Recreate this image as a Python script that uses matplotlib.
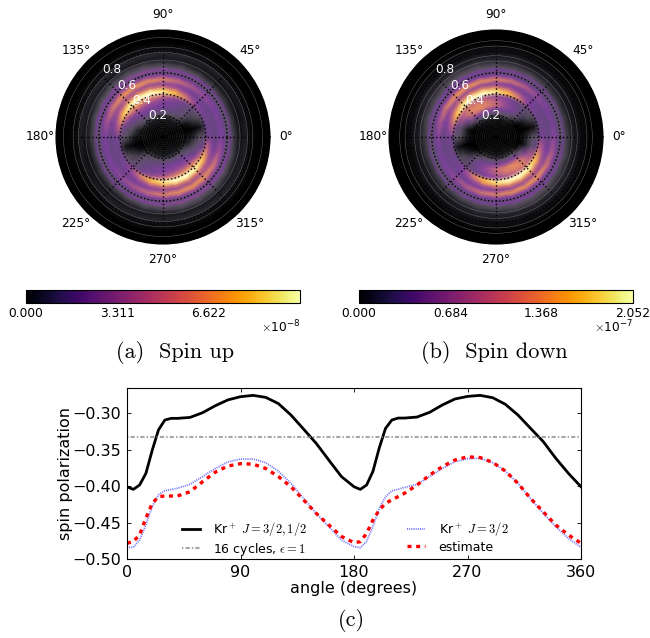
# Spin resolved momentum maps and spin polarization vs angle.
import numpy as np
import matplotlib
matplotlib.use("Agg")
import matplotlib.pyplot as plt
from matplotlib.colors import LinearSegmentedColormap, Normalize
from matplotlib.cm import ScalarMappable

plt.rcParams['mathtext.fontset'] = 'cm'
plt.rcParams['axes.unicode_minus'] = True

# polar maps: radii, angles of the table columns (upper half, lower half repeats it)
radii = [0, .12, .18, .22, .26, .30, .34, .38, .42, .44, .47, .50, .54, .58, .61, .63, .66, .70, .74, .78, .82, .86, .90, 1.0]
half_angles = [0, 15, 30, 45, 60, 75, 90, 105, 120, 135, 150, 165]

# fraction of the maximum, one row per radius
map_up = [
    [.00, .00, .00, .00, .00, .00, .00, .00, .00, .00, .00, .00],
    [.01, .00, .00, .02, .02, .02, .02, .02, .02, .02, .01, .01],
    [.03, .00, .01, .04, .05, .05, .05, .05, .05, .05, .03, .02],
    [.04, .00, .02, .09, .12, .13, .13, .14, .14, .13, .10, .05],
    [.05, .00, .04, .13, .18, .20, .22, .24, .24, .21, .14, .08],
    [.08, .01, .08, .15, .21, .25, .28, .30, .31, .29, .20, .12],
    [.12, .02, .10, .16, .22, .26, .31, .36, .38, .37, .28, .18],
    [.15, .06, .12, .18, .26, .36, .44, .52, .56, .58, .44, .24],
    [.26, .20, .24, .34, .52, .74, .91, 1.0, 1.0, .96, .78, .48],
    [.26, .22, .25, .32, .46, .66, .80, .90, .93, .86, .66, .42],
    [.24, .22, .24, .28, .34, .42, .48, .52, .54, .50, .42, .32],
    [.20, .20, .22, .24, .28, .32, .34, .36, .38, .40, .36, .28],
    [.30, .28, .30, .34, .40, .48, .54, .58, .60, .60, .52, .38],
    [.24, .22, .24, .25, .27, .30, .32, .33, .35, .36, .34, .28],
    [.13, .12, .13, .14, .15, .16, .17, .17, .18, .18, .17, .15],
    [.24, .22, .24, .26, .28, .31, .32, .33, .33, .32, .30, .27],
    [.10, .09, .09, .10, .11, .12, .13, .13, .13, .13, .12, .11],
    [.06, .05, .06, .06, .07, .08, .08, .09, .09, .09, .08, .07],
    [.04, .03, .04, .04, .05, .05, .05, .05, .05, .05, .05, .05],
    [.06, .05, .05, .06, .06, .07, .07, .07, .07, .07, .06, .06],
    [.02, .02, .02, .02, .03, .03, .03, .03, .03, .03, .03, .02],
    [.01, .01, .01, .01, .02, .02, .02, .02, .02, .02, .02, .01],
    [.00, .00, .00, .00, .00, .00, .00, .00, .00, .00, .00, .00],
    [.00, .00, .00, .00, .00, .00, .00, .00, .00, .00, .00, .00],
]
map_down = [
    [.00, .00, .00, .00, .00, .00, .00, .00, .00, .00, .00, .00],
    [.00, .00, .00, .00, .01, .01, .01, .01, .01, .01, .00, .00],
    [.00, .00, .00, .02, .04, .04, .04, .04, .04, .03, .01, .00],
    [.02, .00, .00, .07, .12, .13, .14, .14, .14, .12, .05, .00],
    [.04, .00, .03, .12, .22, .26, .28, .32, .32, .26, .12, .03],
    [.08, .00, .07, .18, .28, .36, .46, .52, .56, .48, .26, .08],
    [.12, .02, .10, .18, .26, .34, .44, .52, .56, .56, .38, .16],
    [.14, .05, .11, .16, .22, .30, .34, .40, .46, .50, .42, .22],
    [.26, .18, .22, .32, .52, .74, .91, 1.0, 1.0, .95, .76, .46],
    [.26, .22, .24, .30, .46, .66, .80, .90, .93, .86, .64, .40],
    [.24, .22, .24, .28, .34, .42, .50, .54, .56, .52, .42, .32],
    [.20, .20, .22, .24, .28, .30, .32, .34, .36, .38, .34, .28],
    [.32, .28, .30, .34, .42, .50, .54, .58, .60, .60, .52, .40],
    [.22, .20, .22, .24, .26, .28, .30, .30, .32, .33, .32, .28],
    [.14, .13, .14, .15, .16, .17, .17, .18, .18, .18, .17, .16],
    [.22, .20, .22, .24, .25, .27, .28, .29, .29, .28, .27, .25],
    [.10, .09, .09, .10, .11, .11, .12, .12, .12, .12, .11, .11],
    [.07, .06, .06, .07, .07, .08, .08, .09, .09, .09, .08, .08],
    [.05, .04, .04, .05, .05, .06, .06, .06, .06, .06, .06, .05],
    [.04, .03, .04, .04, .04, .05, .05, .05, .05, .05, .05, .04],
    [.02, .02, .02, .02, .03, .03, .03, .03, .03, .03, .03, .02],
    [.01, .01, .01, .01, .01, .02, .02, .02, .02, .01, .01, .01],
    [.00, .00, .00, .00, .00, .00, .00, .00, .00, .00, .00, .00],
    [.00, .00, .00, .00, .00, .00, .00, .00, .00, .00, .00, .00],
]
# thin grey rings seen over the dark parts of each map
rings_up = [.03, .05, .07, .09, .11, .13, .15, .17, .19, .72, .79, .84, .93]
rings_down = [.03, .05, .07, .09, .11, .13, .15, .17, .19, .71, .76, .85, .90]

vmax_up = 9.93e-8
vmax_down = 2.052e-7
ticks_up = [0.000, 3.311, 6.622]
ticks_down = [0.000, 0.684, 1.368, 2.052]

# line plot
angles_black = [0, 5, 10, 15, 20, 25, 30, 35, 40, 50, 60, 70, 80, 90, 100, 110, 120, 130, 140, 150, 160, 170, 180,
                185, 190, 195, 200, 205, 210, 215, 220, 230, 240, 250, 260, 270, 280, 290, 300, 310, 320, 330, 340, 350, 360]
total = [-.401, -.4046, -.3986, -.3826, -.351, -.323, -.3096, -.3073, -.3073, -.306, -.2995, -.290, -.282, -.2776,
         -.2758, -.2785, -.287, -.3027, -.322, -.3415, -.3644, -.387, -.4010,
         -.4046, -.3986, -.380, -.348, -.321, -.3096, -.3069, -.3069, -.3055, -.299, -.289, -.2808, -.2772,
         -.2758, -.279, -.288, -.3027, -.321, -.339, -.362, -.3826, -.401]
angles_jhalf = [0, 5, 10, 15, 20, 25, 30, 40, 50, 60, 70, 80, 90, 100, 110, 120, 130, 140, 150, 160, 170, 180,
                185, 190, 195, 200, 205, 210, 220, 230, 240, 250, 260, 270, 280, 290, 300, 310, 320, 330, 340, 350, 360]
j_three_half = [-.484, -.484, -.474, -.4534, -.428, -.412, -.4064, -.403, -.3977, -.387, -.376, -.367, -.363, -.363,
                -.368, -.3795, -.3963, -.417, -.4374, -.4557, -.474, -.483,
                -.4845, -.476, -.4557, -.4306, -.4146, -.4068, -.402, -.3977, -.387, -.376, -.3667, -.3626, -.362,
                -.368, -.3795, -.3963, -.417, -.4374, -.4557, -.4717, -.484]
estimate = [-.4785, -.476, -.467, -.444, -.4237, -.4146, -.4137, -.4137, -.4078, -.394, -.381, -.3726, -.3694, -.370,
            -.376, -.387, -.401, -.419, -.4374, -.4534, -.469, -.4776,
            -.4763, -.465, -.4466, -.433, -.4237, -.419, -.410, -.3986, -.385, -.3735, -.3644, -.360, -.361,
            -.3676, -.3795, -.3963, -.417, -.4352, -.4534, -.467, -.4785]
angles_gray = [0, 360]
cycles16 = [-.3333, -.3333]

map_colors = [(0, 0, 0), (.10, .10, .12), (.36, .33, .38), (.40, .28, .50), (.50, .25, .62), (.76, .40, .50),
              (.93, .58, .35), (.99, .74, .28), (.99, .90, .55), (1, .98, .80)]
map_stops = [0, .05, .12, .2, .3, .45, .6, .75, .88, 1]


def px(x, y, w, h):
    # pixel box (top left origin) to figure fraction
    return [x / 650, 1 - (y + h) / 638, w / 650, h / 638]


def draw_map(box, table, rings):
    ax = fig.add_axes(px(*box), projection='polar')
    half = np.array(table)
    values = np.hstack([half, half, half[:, :1]])
    theta = np.radians(half_angles + [a + 180 for a in half_angles] + [360])
    cmap = LinearSegmentedColormap.from_list('washed', list(zip(map_stops, map_colors)))
    ax.pcolormesh(theta, radii, values, cmap=cmap, vmin=0, vmax=1, shading='gouraud')
    circle = np.radians(np.arange(0, 361, 3))
    for r in rings:
        ls = ':' if r < .2 else '-'
        ax.plot(circle, np.full(circle.shape, r), color='0.45', lw=.3, ls=ls)
    ax.set_ylim(0, 1)
    ax.set_facecolor('black')
    ax.set_rticks([.2, .4, .6, .8])
    ax.set_rlabel_position(135)
    ax.tick_params(axis='y', labelcolor='white', labelsize=8.7)
    ax.tick_params(axis='x', labelsize=8.7, pad=1)
    ax.grid(color='black', ls=':', lw=1.0)
    ax.spines['polar'].set_color('black')
    return ax


def draw_bar(box, vmax, ticks, scale, power):
    cax = fig.add_axes(px(*box))
    sm = ScalarMappable(norm=Normalize(0, vmax), cmap='inferno')
    bar = fig.colorbar(sm, cax=cax, orientation='horizontal')
    bar.set_ticks([t * scale for t in ticks])
    bar.set_ticklabels(['%.3f' % t for t in ticks])
    cax.tick_params(labelsize=8.8, length=0, pad=3)
    bar.outline.set_linewidth(.8)
    cax.text(1, -1.85, r'$\times\mathdefault{10^{%d}}$' % power, transform=cax.transAxes,
             ha='right', va='center', fontsize=8.8)


fig = plt.figure(figsize=(6.5, 6.38), dpi=100)

draw_map((56, 30, 214, 214), map_up, rings_up)
draw_map((389, 30, 214, 214), map_down, rings_down)
draw_bar((26, 290, 274, 13), vmax_up, ticks_up, 1e-8, -8)
draw_bar((359, 290, 274, 13), vmax_down, ticks_down, 1e-7, -7)

fig.text(175 / 650, 1 - 353 / 638, '(a)  Spin up', family='cmr10', fontsize=16, ha='center', va='center')
fig.text(494 / 650, 1 - 353 / 638, '(b)  Spin down', family='cmr10', fontsize=16, ha='center', va='center')
fig.text(351 / 650, 1 - 620 / 638, '(c)', family='cmr10', fontsize=16, ha='center', va='center')

ax = fig.add_axes(px(127, 388, 454, 171))
ax.plot(angles_black, total, color='black', lw=2, label=r'Kr$^+$ $J=3/2,1/2$')
ax.plot(angles_gray, cycles16, color='gray', lw=1.5, ls=(0, (.7, 1, 2, 1)), alpha=.7, label=r'16 cycles, $\epsilon=1$')
ax.plot(angles_jhalf, j_three_half, color='blue', lw=1.3, ls=(0, (.6, .6)), alpha=.55, label=r'Kr$^+$ $J=3/2$')
ax.plot(angles_jhalf, estimate, color='red', lw=2.4, ls=(0, (1.2, 1.4)), label='estimate')
ax.set_xlim(0, 360)
ax.set_ylim(-.5, -.2657)
ax.set_xticks([0, 90, 180, 270, 360])
ax.set_yticks([-.5, -.45, -.4, -.35, -.3])
ax.set_yticklabels(['\u22120.50', '\u22120.45', '\u22120.40', '\u22120.35', '\u22120.30'])
ax.tick_params(direction='in', top=True, right=True, labelsize=11.5, length=3, width=.6, pad=4)
ax.set_xlabel('angle (degrees)', fontsize=11.5, labelpad=1)
ax.set_ylabel('spin polarization', fontsize=11.5, labelpad=0)
for s in ax.spines.values():
    s.set_linewidth(.8)
ax.legend(ncol=2, loc='lower left', frameon=False, fontsize=9, columnspacing=8.0, handlelength=1.45,
          handletextpad=1.05, labelspacing=.2, borderpad=0, borderaxespad=0, bbox_to_anchor=(.121, .007))

fig.savefig('out.png', dpi=100)
